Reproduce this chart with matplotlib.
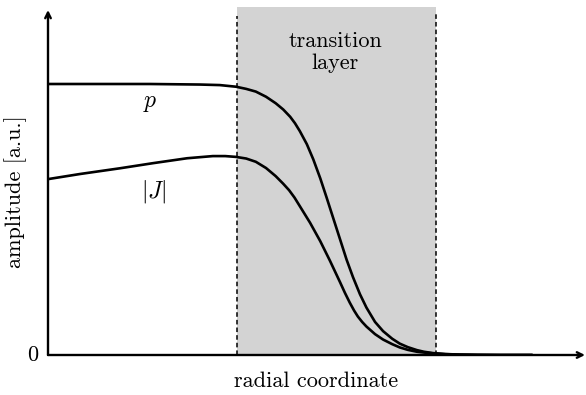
import matplotlib
matplotlib.use("Agg")
import matplotlib.pyplot as plt

plt.rcParams['font.family'] = 'serif'
plt.rcParams['font.serif'] = ['cmr10']
plt.rcParams['mathtext.fontset'] = 'cm'
plt.rcParams['axes.unicode_minus'] = False

# radial coordinate (axis length = 1) and amplitudes (plateau of p = 1)
p_x = [0.000, 0.097, 0.190, 0.283, 0.320, 0.350, 0.369, 0.387, 0.406, 0.424, 0.438, 0.451,
       0.460, 0.469, 0.482, 0.494, 0.507, 0.519, 0.531, 0.544, 0.556, 0.568, 0.581, 0.593,
       0.609, 0.624, 0.641, 0.655, 0.670, 0.687, 0.700, 0.717, 0.740, 0.767, 0.800, 0.842,
       0.900]
p_y = [1.000, 1.000, 1.000, 0.998, 0.996, 0.990, 0.982, 0.972, 0.953, 0.929, 0.906, 0.879,
       0.855, 0.826, 0.778, 0.722, 0.652, 0.580, 0.506, 0.426, 0.352, 0.287, 0.224, 0.175,
       0.122, 0.088, 0.060, 0.042, 0.029, 0.018, 0.012, 0.007, 0.0035, 0.0015, 0.0006, 0.000,
       0.000]

j_x = [0.000, 0.060, 0.134, 0.196, 0.259, 0.307, 0.330, 0.350, 0.369, 0.387, 0.406, 0.424,
       0.438, 0.449, 0.459, 0.469, 0.488, 0.507, 0.525, 0.544, 0.553, 0.562, 0.570, 0.577,
       0.585, 0.593, 0.609, 0.624, 0.641, 0.655, 0.670, 0.687, 0.700, 0.717, 0.740, 0.767,
       0.800, 0.842, 0.900]
j_y = [0.649, 0.668, 0.689, 0.708, 0.726, 0.734, 0.734, 0.731, 0.725, 0.713, 0.690, 0.660,
       0.632, 0.608, 0.581, 0.549, 0.488, 0.420, 0.348, 0.268, 0.229, 0.193, 0.164, 0.142,
       0.122, 0.105, 0.077, 0.057, 0.040, 0.028, 0.019, 0.012, 0.009, 0.006, 0.003, 0.0015,
       0.0005, 0.000, 0.000]

layer = (0.352, 0.7225)

fig = plt.figure(figsize=(5.86, 3.95), dpi=100)
ax = fig.add_axes([48 / 586, 40 / 395, 538 / 586, 348 / 395])
ax.set_xlim(0, 538 / 537)
ax.set_ylim(0, 348 / 271)
ax.axis('off')

# transition layer
ax.axvspan(layer[0], layer[1], color='#d3d3d3', lw=0, zorder=0)
ax.vlines(layer[0], 0, 1.251, colors='black', linestyles=(0, (3, 2)), lw=1.1, zorder=1)
ax.vlines(layer[1], 0, 1.258, colors='black', linestyles=(0, (3, 2)), lw=1.1, zorder=1)

ax.plot(p_x, p_y, color='black', lw=1.9, zorder=2, solid_joinstyle='round')
ax.plot(j_x, j_y, color='black', lw=1.9, zorder=2, solid_joinstyle='round')

# axes with arrows
ax.annotate('', xy=(1.0, 0), xytext=(0, 0), annotation_clip=False,
            arrowprops=dict(arrowstyle='->', lw=1.7, color='black', shrinkA=0, shrinkB=0))
ax.annotate('', xy=(0, 1.273), xytext=(0, 0), annotation_clip=False,
            arrowprops=dict(arrowstyle='->', lw=1.7, color='black', shrinkA=0, shrinkB=0))

ax.text(0.190, 0.930, '$p$', fontsize=17, ha='center', va='center')
ax.text(0.196, 0.605, '$|J|$', fontsize=17, ha='center', va='center')
ax.text(0.535, 1.118, 'transition\nlayer', fontsize=16, ha='center', va='center',
        linespacing=1.15)
ax.text(-0.028, 0.0, '0', fontsize=16, ha='center', va='center')

fig.text(316 / 586, 1 - 381 / 395, 'radial coordinate', fontsize=16, ha='center', va='center')
fig.text(16 / 586, 1 - 192 / 395, 'amplitude [a.u.]', fontsize=16, ha='center', va='center',
         rotation=90)

fig.savefig('out.png', dpi=100)
